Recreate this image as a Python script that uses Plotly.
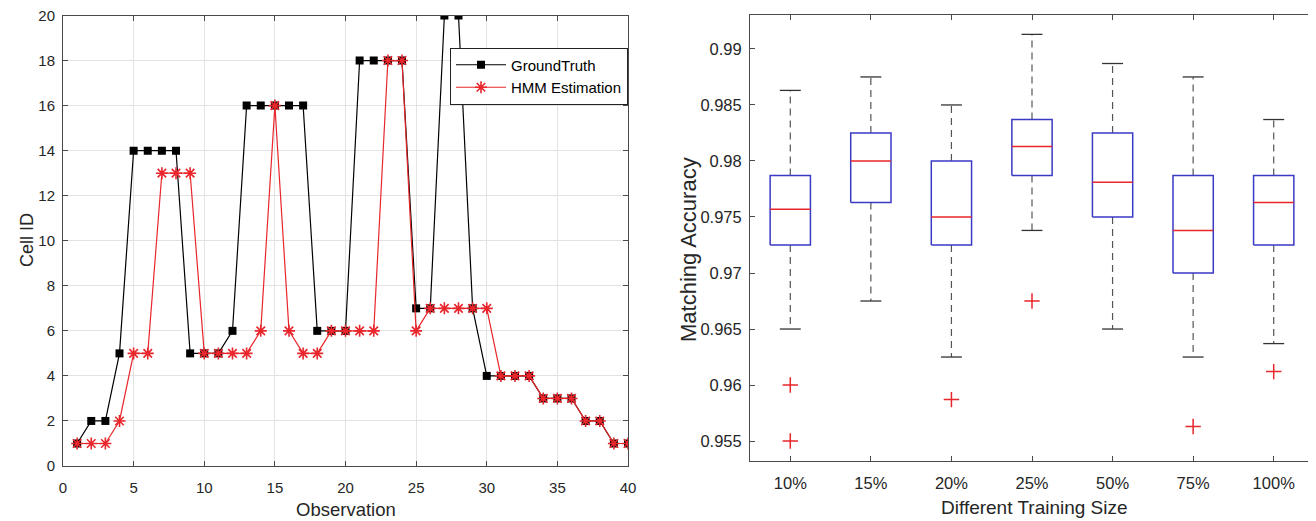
import plotly.graph_objects as go

# ---------------- Data: left chart ----------------
observation = list(range(1, 41))
ground_truth = [1, 2, 2, 5, 14, 14, 14, 14, 5, 5,
                5, 6, 16, 16, 16, 16, 16, 6, 6, 6,
                18, 18, 18, 18, 7, 7, 20, 20, 7, 4,
                4, 4, 4, 3, 3, 3, 2, 2, 1, 1]
hmm_estimation = [1, 1, 1, 2, 5, 5, 13, 13, 13, 5,
                  5, 5, 5, 6, 16, 6, 5, 5, 6, 6,
                  6, 6, 18, 18, 6, 7, 7, 7, 7, 7,
                  4, 4, 4, 3, 3, 3, 2, 2, 1, 1]

# ---------------- Data: right chart ----------------
train_sizes = ["10%", "15%", "20%", "25%", "50%", "75%", "100%"]
upper_whisker = [0.9863, 0.9875, 0.9850, 0.9913, 0.9887, 0.9875, 0.9837]
q3_vals = [0.9787, 0.9825, 0.9800, 0.9837, 0.9825, 0.9787, 0.9787]
median_vals = [0.9757, 0.9800, 0.9750, 0.9813, 0.9781, 0.9738, 0.9763]
q1_vals = [0.9725, 0.9763, 0.9725, 0.9787, 0.9750, 0.9700, 0.9725]
lower_whisker = [0.9650, 0.9675, 0.9625, 0.9738, 0.9650, 0.9625, 0.9637]
outlier_group = ["10%", "10%", "20%", "25%", "75%", "100%"]
outlier_vals = [0.9600, 0.9550, 0.9587, 0.9675, 0.9563, 0.9612]

acc_ticks = [0.955, 0.96, 0.965, 0.97, 0.975, 0.98, 0.985, 0.99]
acc_labels = ["0.955", "0.96", "0.965", "0.97", "0.975", "0.98", "0.985", "0.99"]

FONT = "Arial, Liberation Sans, Helvetica, sans-serif"
TXT = "#262626"
AX = "#4a4a4a"
RED = "#e8262b"
BLUE = "#3a3ac4"

fig = go.Figure()

# Left chart traces
fig.add_trace(go.Scatter(
    x=observation, y=ground_truth, mode="lines+markers", name="GroundTruth",
    line=dict(color="black", width=1.2),
    marker=dict(symbol="square", size=8, color="black"),
    xaxis="x", yaxis="y"))
fig.add_trace(go.Scatter(
    x=observation, y=hmm_estimation, mode="lines+markers", name="HMM Estimation",
    line=dict(color=RED, width=1.2),
    marker=dict(symbol="asterisk-open", size=10, color=RED, line=dict(color=RED, width=1.6)),
    xaxis="x", yaxis="y"))

# Right chart: box plot built from stats
pos = {c: i + 1 for i, c in enumerate(train_sizes)}
bw = 0.25   # box half-width
cw = 0.13   # cap half-width

bx, by, mx, my, wx, wy, cx, cy = [], [], [], [], [], [], [], []
for c, lo, a, m, b, hi in zip(train_sizes, lower_whisker, q1_vals, median_vals, q3_vals, upper_whisker):
    p = pos[c]
    bx += [p - bw, p + bw, p + bw, p - bw, p - bw, None]
    by += [a, a, b, b, a, None]
    mx += [p - bw, p + bw, None]
    my += [m, m, None]
    wx += [p, p, None, p, p, None]
    wy += [b, hi, None, a, lo, None]
    cx += [p - cw, p + cw, None, p - cw, p + cw, None]
    cy += [hi, hi, None, lo, lo, None]

fig.add_trace(go.Scatter(x=wx, y=wy, mode="lines", showlegend=False,
                         line=dict(color="#555555", width=1.2, dash="7px,5px"),
                         xaxis="x2", yaxis="y2", hoverinfo="skip"))
fig.add_trace(go.Scatter(x=cx, y=cy, mode="lines", showlegend=False,
                         line=dict(color="#333333", width=1.3),
                         xaxis="x2", yaxis="y2", hoverinfo="skip"))
fig.add_trace(go.Scatter(x=bx, y=by, mode="lines", showlegend=False,
                         line=dict(color=BLUE, width=1.5),
                         xaxis="x2", yaxis="y2", hoverinfo="skip"))
fig.add_trace(go.Scatter(x=mx, y=my, mode="lines", showlegend=False,
                         line=dict(color=RED, width=1.5),
                         xaxis="x2", yaxis="y2", hoverinfo="skip"))
fig.add_trace(go.Scatter(x=[pos[g] for g in outlier_group], y=outlier_vals, mode="markers",
                         showlegend=False,
                         marker=dict(symbol="cross-thin-open", size=11, color=RED,
                                     line=dict(color=RED, width=1.5)),
                         xaxis="x2", yaxis="y2"))

W, H = 1316, 521
OFF = 8  # page body margin offset (screen px -> figure px)


def xp(sx):
    return (sx - OFF) / W


def yp(sy):
    return 1 - (sy - OFF) / H


axis_common = dict(showline=True, linecolor=AX, linewidth=1, mirror="ticks",
                   ticks="inside", ticklen=5, tickcolor=AX, zeroline=False,
                   automargin=False, ticklabeloverflow="allow")
LEFT_TICK = dict(family=FONT, size=15, color=TXT)
RIGHT_TICK = dict(family=FONT, size=16.5, color=TXT)

fig.update_layout(
    width=W, height=H,
    margin=dict(l=0, r=0, t=0, b=0, autoexpand=False),
    paper_bgcolor="white", plot_bgcolor="white",
    font=dict(family=FONT, color=TXT),
    xaxis=dict(domain=[xp(63), xp(628)], range=[0, 40], tickmode="linear", tick0=0, dtick=5,
               showgrid=True, gridcolor="#e3e3e3", gridwidth=1, ticklabelstandoff=8,
               tickfont=LEFT_TICK, anchor="y", **axis_common),
    yaxis=dict(domain=[yp(466), yp(15.5)], range=[0, 20], tickmode="linear", tick0=0, dtick=2,
               showgrid=True, gridcolor="#e3e3e3", gridwidth=1, ticklabelstandoff=4,
               tickfont=LEFT_TICK, anchor="x", **axis_common),
    xaxis2=dict(domain=[xp(750), xp(1314)], range=[0.5, 7.5],
                tickmode="array", tickvals=[pos[c] for c in train_sizes], ticktext=train_sizes,
                showgrid=False, ticklabelstandoff=7,
                tickfont=RIGHT_TICK, anchor="y2", **axis_common),
    yaxis2=dict(domain=[yp(461), yp(15)], range=[0.95322, 0.99303],
                tickmode="array", tickvals=acc_ticks, ticktext=acc_labels,
                showgrid=False, ticklabelstandoff=4,
                tickfont=RIGHT_TICK, anchor="x2", **axis_common),
    legend=dict(x=xp(628), xanchor="right", y=yp(47.5), yanchor="top",
                bgcolor="white", bordercolor="#222222", borderwidth=1,
                font=dict(family=FONT, size=15, color="black"),
                itemwidth=50, tracegroupgap=0),
    showlegend=True,
    annotations=[
        dict(text="Observation", x=xp(345.5), y=yp(509), xref="paper", yref="paper",
             xanchor="center", yanchor="middle", showarrow=False,
             font=dict(family=FONT, size=18.5, color=TXT)),
        dict(text="Different Training Size", x=xp(1034), y=yp(507), xref="paper", yref="paper",
             xanchor="center", yanchor="middle", showarrow=False,
             font=dict(family=FONT, size=19, color=TXT)),
        dict(text="Cell ID", x=xp(27), y=yp(240), xref="paper", yref="paper",
             xanchor="center", yanchor="middle", showarrow=False, textangle=-90,
             font=dict(family=FONT, size=18, color=TXT)),
        dict(text="Matching Accuracy", x=xp(688), y=yp(250), xref="paper", yref="paper",
             xanchor="center", yanchor="middle", showarrow=False, textangle=-90,
             font=dict(family=FONT, size=22, color=TXT)),
    ],
)

fig.write_html("out.html")
